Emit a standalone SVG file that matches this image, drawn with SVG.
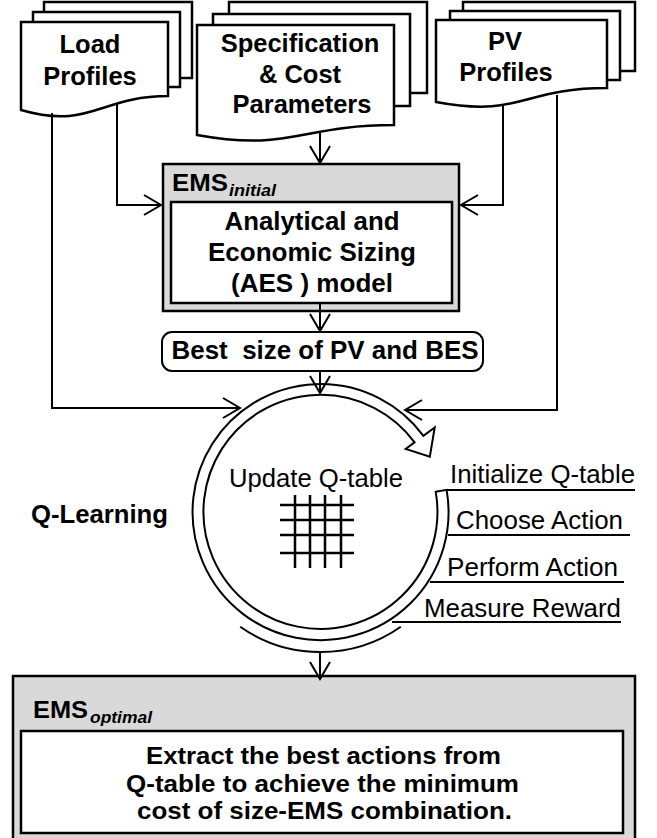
<svg xmlns="http://www.w3.org/2000/svg" width="657" height="838" viewBox="0 0 657 838">
  <style>
    .pg { fill: #fff; stroke: #000; stroke-width: 2.5; }
    .box { fill: #d9d9d9; stroke: #000; stroke-width: 2.5; }
    .inner { fill: #fff; stroke: #000; stroke-width: 2.5; }
    .ln { fill: none; stroke: #000; stroke-width: 2; }
    .b { font-family: "Liberation Sans", Arial, sans-serif; font-weight: bold; fill: #000; }
    .r { font-family: "Liberation Sans", Arial, sans-serif; fill: #000; }
    .doc { font-size: 25.5px; text-anchor: middle; }
    .sub { font-size: 17px; font-style: italic; }
    .mid { text-anchor: middle; }
  </style>
  <defs>
    <marker id="arr" viewBox="-19 -12 21 24" markerWidth="21" markerHeight="24" refX="0" refY="0" orient="auto" markerUnits="userSpaceOnUse">
      <path d="M-17,-10 L0,0 L-17,10" fill="none" stroke="#000" stroke-width="2"/>
    </marker>
  </defs>
  <rect width="657" height="838" fill="#fff"/>

  <!-- input documents -->
  <g id="load-profiles">
    <rect class="pg" x="44" y="2" width="148" height="76"/>
    <rect class="pg" x="33" y="12" width="147" height="75"/>
    <path class="pg" d="M21,22 H168 V96 C100,96 90,130 21,110 Z"/>
    <text class="b doc" x="90" y="53">Load</text>
    <text class="b doc" x="90" y="85">Profiles</text>
  </g>
  <g id="spec-cost">
    <rect class="pg" x="229" y="2" width="198" height="91"/>
    <rect class="pg" x="213" y="14" width="197" height="92"/>
    <path class="pg" d="M197,25 H394 V125 C300,125 290,152 197,135 Z"/>
    <text class="b doc" x="300" y="52">Specification</text>
    <text class="b doc" x="300" y="83">&amp; Cost</text>
    <text class="b doc" x="302" y="113">Parameters</text>
  </g>
  <g id="pv-profiles">
    <rect class="pg" x="463" y="2" width="172" height="69"/>
    <rect class="pg" x="450" y="11" width="170" height="69"/>
    <path class="pg" d="M436,20 H607 V88 C521.5,88 521.5,118 436,102 Z"/>
    <text class="b doc" x="505" y="50">PV</text>
    <text class="b doc" x="506" y="81">Profiles</text>
  </g>

  <!-- initial EMS sizing block -->
  <g id="ems-initial">
    <rect class="box" x="163" y="164" width="296" height="147"/>
    <text class="b" x="172" y="191" font-size="24" textLength="56" lengthAdjust="spacingAndGlyphs">EMS</text>
    <text class="b sub" x="229" y="196" textLength="47" lengthAdjust="spacingAndGlyphs">initial</text>
    <rect class="inner" x="171" y="202" width="281" height="101"/>
    <text class="b mid" x="312" y="230" font-size="25" textLength="175" lengthAdjust="spacingAndGlyphs">Analytical and</text>
    <text class="b mid" x="312" y="261" font-size="25" textLength="208" lengthAdjust="spacingAndGlyphs">Economic Sizing</text>
    <text class="b mid" x="312" y="292" font-size="25" textLength="162" lengthAdjust="spacingAndGlyphs">(AES ) model</text>
  </g>

  <g id="best-size">
    <rect x="162" y="332" width="321" height="39" rx="10" fill="#fff" stroke="#000" stroke-width="2"/>
    <text class="b mid" x="325" y="359" font-size="25" textLength="307" lengthAdjust="spacingAndGlyphs" xml:space="preserve">Best  size of PV and BES</text>
  </g>

  <!-- Q-learning loop -->
  <g id="q-learning">
    <text class="b" x="31" y="523" font-size="25" textLength="137" lengthAdjust="spacingAndGlyphs">Q-Learning</text>
    <g class="ln">
      <path d="M447,490 H635"/>
      <path d="M448,535 H630"/>
      <path d="M430,582 H624"/>
      <path d="M392,622 H621"/>
    </g>
    <text class="r" x="450" y="483" font-size="25" textLength="185" lengthAdjust="spacingAndGlyphs">Initialize Q-table</text>
    <text class="r" x="456" y="529" font-size="25" textLength="167" lengthAdjust="spacingAndGlyphs">Choose Action</text>
    <text class="r" x="447" y="576" font-size="25" textLength="171" lengthAdjust="spacingAndGlyphs">Perform Action</text>
    <text class="r" x="424" y="617" font-size="25" textLength="197" lengthAdjust="spacingAndGlyphs">Measure Reward</text>
    <!-- circular arrow band -->
    <path fill="#fff" stroke="#000" stroke-width="2" stroke-linejoin="miter"
      d="M435.7,491.7 L446.6,489.8 A128,128 0 1 1 423.4,435.9 L434.7,427.5 L429.8,456.8 L405.7,449 L414.6,442.4 A117,117 0 1 0 435.7,491.7 Z"/>
    <path class="ln" d="M400.8,626.7 A140,140 0 0 1 240.2,626.7"/>
    <text class="r" x="229" y="487" font-size="25" textLength="174" lengthAdjust="spacingAndGlyphs">Update Q-table</text>
    <g fill="none" stroke="#000" stroke-width="2.5">
      <path d="M280,505 H354 M280,520 H354 M280,535 H354 M280,553 H354"/>
      <path d="M295,495 V568 M310,495 V568 M325,495 V568 M341,495 V568"/>
    </g>
  </g>

  <!-- optimal EMS block -->
  <g id="ems-optimal">
    <rect class="box" x="13" y="676" width="622" height="172"/>
    <text class="b" x="33" y="718" font-size="24" textLength="55" lengthAdjust="spacingAndGlyphs">EMS</text>
    <text class="b sub" x="90" y="723" textLength="62" lengthAdjust="spacingAndGlyphs">optimal</text>
    <rect class="inner" x="21" y="731" width="602" height="102"/>
    <text class="b mid" x="323.5" y="764" font-size="24" textLength="355" lengthAdjust="spacingAndGlyphs">Extract the best actions from</text>
    <text class="b mid" x="322.5" y="792" font-size="24" textLength="393" lengthAdjust="spacingAndGlyphs">Q-table to achieve the minimum</text>
    <text class="b mid" x="324.5" y="819" font-size="24" textLength="375" lengthAdjust="spacingAndGlyphs">cost of size-EMS combination.</text>
  </g>

  <!-- connectors -->
  <g id="connectors" class="ln">
    <path d="M52,113 V408 H240" marker-end="url(#arr)"/>
    <path d="M117,104 V205 H161" marker-end="url(#arr)"/>
    <path d="M320,131 V163" marker-end="url(#arr)"/>
    <path d="M503,105 V205 H461" marker-end="url(#arr)"/>
    <path d="M557,95 V410 H405" marker-end="url(#arr)"/>
    <path d="M320,303 V331" marker-end="url(#arr)"/>
    <path d="M320,371 V393" marker-end="url(#arr)"/>
    <path d="M320,653 V679" marker-end="url(#arr)"/>
  </g>
</svg>
